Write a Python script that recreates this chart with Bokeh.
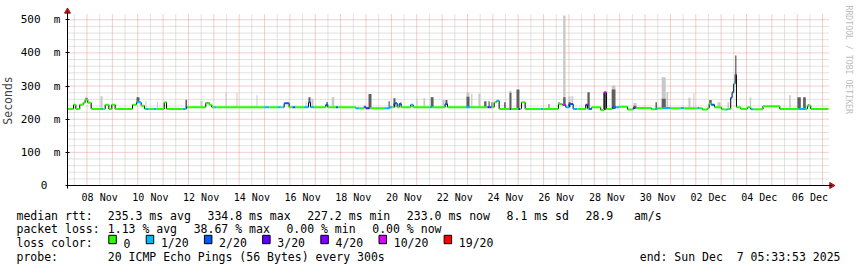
import numpy as np
import pandas as pd
from bokeh.plotting import figure
from bokeh.models import (Range1d, FixedTicker, DatetimeTickFormatter, ColumnDataSource,
                          Label, BoxAnnotation)
from bokeh.embed import file_html
from bokeh.resources import INLINE

# ---------------- data ----------------
START = "2025-11-07 05:33:53"
SPAN_H = 720  # 30 days

loss_labels = ["0", "1/20", "2/20", "3/20", "4/20", "10/20", "19/20"]
loss_colors = ["#26ff00", "#00b8ff", "#0059ff", "#5e00ff", "#7e00ff", "#dd00ff", "#ff0000"]

# median rtt as a step series: start hour (since START), median [ms], loss index
med_h = [0, 5.7, 7.9, 11.6, 14.9, 16.7, 19.2, 22.4, 31.9, 33.8,
         35.7, 39.1, 41.9, 45.1, 61.5, 65.3, 69.7, 72.8, 74.1, 76.9,
         81.4, 84.2, 91.5, 93.7, 108.8, 111.9, 112.6, 113.5, 130.8, 134.1,
         136.5, 138.8, 141.0, 186.1, 190.8, 198.7, 201.8, 203.4, 205.0, 209.7,
         212.9, 215.7, 223.9, 228.0, 229.9, 233.4, 244.4, 246.3, 253.8, 256.1,
         272.7, 276.5, 280.7, 282.2, 286.0, 299.6, 304.9, 307.5, 309.1, 311.9,
         313.8, 315.7, 324.8, 327.0, 342.8, 345.3, 357.3, 359.5, 376.8, 381.5,
         397.3, 399.5, 401.4, 403.7, 406.1, 408.4, 418.4, 420.0, 426.7, 428.3,
         429.5, 433.0, 447.7, 450.0, 464.5, 468.3, 471.4, 474.6, 478.4, 482.5,
         490.3, 491.9, 493.5, 496.0, 504.5, 507.7, 509.9, 515.6, 519.4, 521.9,
         529.8, 535.2, 537.6, 552.5, 556.0, 558.1, 562.9, 570.7, 580.2, 583.4,
         596.0, 598.2, 600.7, 605.4, 607.1, 609.0, 612.1, 618.7, 621.2, 622.5,
         624.4, 627.5, 628.8, 630.3, 631.7, 632.9, 637.0, 643.3, 646.4, 648.7,
         658.0, 673.9, 691.5, 698.5, 700.0, 703.2]
med_ms = [231, 244, 231, 244, 250, 259, 250, 231, 231, 231,
          244, 231, 244, 231, 244, 251, 241, 231, 231, 231,
          231, 231, 251, 231, 231, 231, 236, 236, 248, 244,
          236, 236, 236, 236, 236, 236, 236, 236, 248, 236,
          236, 236, 236, 251, 236, 236, 244, 236, 236, 236,
          233, 233, 238, 233, 233, 233, 236, 236, 248, 236,
          246, 236, 244, 236, 236, 236, 246, 236, 236, 236,
          236, 236, 236, 251, 256, 231, 231, 231, 231, 231,
          251, 231, 231, 231, 246, 243, 236, 246, 231, 231,
          244, 231, 231, 236, 228, 281, 231, 236, 236, 238,
          229, 234, 234, 230, 231, 233, 234, 233, 234, 233,
          234, 233, 229, 233, 247, 244, 236, 230, 229, 229,
          231, 265, 281, 307, 335, 236, 231, 236, 230, 230,
          239, 231, 231, 231, 241, 231]
med_loss = [0, 0, 0, 0, 0, 0, 0, 0, 1, 0,
            0, 0, 0, 0, 0, 1, 0, 0, 1, 0,
            1, 0, 0, 0, 1, 0, 3, 0, 0, 0,
            0, 1, 0, 1, 0, 1, 0, 1, 2, 0,
            2, 0, 1, 2, 1, 0, 2, 0, 2, 0,
            1, 0, 2, 3, 0, 1, 1, 0, 2, 0,
            2, 0, 1, 0, 1, 0, 2, 0, 1, 0,
            3, 2, 0, 0, 1, 0, 3, 0, 3, 0,
            0, 0, 1, 0, 0, 5, 1, 2, 1, 0,
            3, 0, 2, 0, 0, 5, 0, 2, 1, 0,
            0, 3, 0, 0, 1, 0, 1, 0, 1, 0,
            1, 0, 0, 0, 0, 2, 0, 0, 0, 1,
            0, 2, 2, 1, 5, 0, 0, 0, 1, 0,
            0, 0, 1, 0, 0, 0]

# smoke (ping spread) above the median: start/end hour, top of dark and light part [ms] (0 = none)
smoke_h0 = [17.0, 31.2, 65.3, 73.8, 84.7, 111.6, 125.8, 130.8, 149.5, 159.9,
            178.8, 225.2, 228.0, 230.8, 245.0, 250.0, 284.8, 303.7, 308.4, 315.0,
            330.2, 336.8, 343.7, 354.8, 357.6, 377.5, 381.9, 388.8, 394.2, 398.3,
            401.1, 413.1, 418.2, 424.8, 455.1, 464.5, 469.0, 474.0, 476.8, 491.9,
            507.1, 514.9, 535.5, 556.3, 562.2, 566.7, 587.5, 592.2, 607.1, 615.0,
            624.4, 631.7, 645.5, 682.8, 690.6, 696.0, 700.5]
smoke_h1 = [18.9, 33.1, 68.1, 74.7, 85.6, 113.1, 127.7, 134.1, 150.4, 160.8,
            179.7, 226.1, 229.9, 232.7, 246.3, 252.3, 287.6, 304.9, 310.3, 316.0,
            331.1, 338.4, 346.3, 356.9, 359.5, 380.3, 383.1, 390.7, 396.4, 399.5,
            402.1, 414.6, 420.0, 427.6, 456.0, 465.7, 471.2, 475.9, 478.4, 494.1,
            509.9, 518.4, 538.3, 557.7, 566.0, 568.3, 589.4, 593.1, 609.5, 617.8,
            626.0, 632.9, 646.8, 684.3, 693.8, 698.5, 701.9]
smoke_dark = [265, 0, 266, 0, 0, 259, 0, 252, 0, 0,
              0, 0, 266, 0, 252, 0, 276, 254, 263, 251,
              0, 0, 266, 0, 258, 268, 0, 0, 254, 254,
              251, 251, 280, 290, 246, 251, 266, 251, 0, 281,
              281, 290, 241, 251, 262, 0, 0, 0, 258, 0,
              0, 392, 0, 0, 266, 266, 245]
smoke_light = [0, 269, 0, 256, 252, 0, 255, 0, 281, 280,
               272, 254, 0, 262, 0, 266, 0, 0, 0, 0,
               263, 263, 266, 258, 0, 281, 277, 277, 0, 0,
               0, 0, 286, 0, 0, 0, 513, 269, 269, 0,
               0, 302, 249, 0, 327, 281, 265, 278, 0, 251,
               251, 0, 266, 272, 0, 0, 0]

y_ticks = [0, 100, 200, 300, 400, 500]
y_tick_labels = ["0", "100 m", "200 m", "300 m", "400 m", "500 m"]

rtt_stats = [235.3, 334.8, 227.2, 233.0]   # avg, max, min, now [ms]
rtt_sd = 8.1
rtt_ams = 28.9
loss_stats = [1.13, 38.67, 0.00, 0.00]     # avg, max, min, now [%]
probe_text = "20 ICMP Echo Pings (56 Bytes) every 300s"
end_text = "end: Sun Dec  7 05:33:53 2025"
watermark = "RRDTOOL / TOBI OETIKER"

# ---------------- geometry (page px) ----------------
W, H = 857, 267
GL, GR, GT, G0 = 67, 828, 13, 185          # graph left/right/top, zero line
PX_H = (GR - GL) / SPAN_H                  # px per hour
Y_GRID_TOP = 519.0                         # ms at GT
PX_MS = (G0 - GT) / Y_GRID_TOP             # px per ms

start_ts = pd.Timestamp(START)
start_ms = (start_ts - pd.Timestamp("1970-01-01")) / pd.Timedelta("1ms")
HOUR_MS = 3600000.0
end_ms = start_ms + SPAN_H * HOUR_MS
MS_PER_PX = HOUR_MS / PX_H


def to_ms(hours):
    return start_ms + np.asarray(hours, dtype=float) * HOUR_MS


def stamps_ms(idx):
    return np.asarray(((idx - pd.Timestamp("1970-01-01")) / pd.Timedelta("1ms")), dtype=float)


NB = "\u00a0"
MONO = "DejaVu Sans Mono"

# the frame fills the whole canvas; axes sit at fixed data locations
x_lo = start_ms - GL * MS_PER_PX
x_hi = start_ms + (W - GL) * MS_PER_PX
y_lo = -(H - G0) / PX_MS
y_hi = G0 / PX_MS

p = figure(width=W, height=H, x_axis_type="datetime",
           x_range=Range1d(x_lo, x_hi), y_range=Range1d(y_lo, y_hi),
           output_backend="svg", toolbar_location=None,
           min_border=0, min_border_left=0, min_border_right=0,
           min_border_top=0, min_border_bottom=0)
p.background_fill_color = "white"
p.border_fill_color = "white"
p.outline_line_color = None
p.grid.visible = False

label_idx = pd.date_range("2025-11-08 12:00", "2025-12-06 12:00", freq="2D")
midnight_idx = pd.date_range("2025-11-08", "2025-12-07", freq="D")
noon_idx = pd.date_range("2025-11-07 12:00", "2025-12-06 12:00", freq="D")

fmt = "%d %b"
p.xaxis.ticker = FixedTicker(ticks=list(stamps_ms(label_idx)), minor_ticks=[])
p.xaxis.formatter = DatetimeTickFormatter(
    microseconds=fmt, milliseconds=fmt, seconds=fmt, minsec=fmt, minutes=fmt,
    hourmin=fmt, hours=fmt, days=fmt, months=fmt, years=fmt, strip_leading_zeros=False)
p.xaxis.fixed_location = 0
p.xaxis.bounds = (start_ms, end_ms + 3 * MS_PER_PX)
p.xaxis.major_tick_line_color = None
p.xaxis.minor_tick_line_color = None
p.xaxis.major_label_standoff = 0
p.xaxis.major_label_text_font = MONO
p.xaxis.major_label_text_font_size = "10px"
p.xaxis.major_label_text_color = "black"
p.xaxis.axis_line_color = "black"

p.yaxis.ticker = FixedTicker(ticks=y_ticks, minor_ticks=[])
overrides = {}
for t, lab in zip(y_ticks, y_tick_labels):
    if " " in lab:
        num, unit = lab.split(" ")
        overrides[t] = num + NB + NB + unit
    else:
        overrides[t] = lab + NB * 2
p.yaxis.major_label_overrides = overrides
p.yaxis.fixed_location = start_ms
p.yaxis.bounds = (-3 / PX_MS, (G0 - 12) / PX_MS)
p.yaxis.major_tick_in = 2
p.yaxis.major_tick_out = 2
p.yaxis.major_tick_line_color = "black"
p.yaxis.minor_tick_line_color = None
p.yaxis.major_label_standoff = 5
p.yaxis.major_label_text_font = MONO
p.yaxis.major_label_text_font_size = "11px"
p.yaxis.major_label_text_color = "black"
p.yaxis.axis_line_color = "black"
p.yaxis.axis_label = "Seconds"
p.yaxis.axis_label_text_font = MONO
p.yaxis.axis_label_text_font_size = "11.5px"
p.yaxis.axis_label_text_font_style = "normal"
p.yaxis.axis_label_standoff = 3

# grid (dotted), limited to the graph area
major_red = "#e59a9a"
minor_gray = "#c4c4c4"
noon_x = stamps_ms(noon_idx)
mid_x = stamps_ms(midnight_idx)
p.segment(x0=noon_x, y0=0, x1=noon_x, y1=Y_GRID_TOP, line_color=minor_gray, line_dash="1 1", line_width=1)
y_minor = np.array([v for v in range(20, 520, 20) if v % 100 != 0], dtype=float)
p.segment(x0=start_ms, y0=y_minor, x1=end_ms, y1=y_minor, line_color=minor_gray, line_dash="1 1", line_width=1)
p.segment(x0=mid_x, y0=0, x1=mid_x, y1=Y_GRID_TOP, line_color=major_red, line_dash="1 1", line_width=1)
y_major = np.array(y_ticks[1:], dtype=float)
p.segment(x0=start_ms, y0=y_major, x1=end_ms, y1=y_major, line_color=major_red, line_dash="1 1", line_width=1)

# smoke
med_h_arr = np.asarray(med_h, dtype=float)
med_ms_arr = np.asarray(med_ms, dtype=float)
s0 = np.asarray(smoke_h0, dtype=float)
s1 = np.asarray(smoke_h1, dtype=float)
base = med_ms_arr[np.searchsorted(med_h_arr, s0, side="right") - 1]
sd = np.asarray(smoke_dark, dtype=float)
sl = np.asarray(smoke_light, dtype=float)
ml = sl > 0
md = sd > 0
p.quad(left=to_ms(s0[ml]), right=to_ms(s1[ml]), bottom=base[ml], top=sl[ml],
       fill_color="#c8c8c8", line_color=None)
p.quad(left=to_ms(s0[md]), right=to_ms(s1[md]), bottom=base[md], top=sd[md],
       fill_color="#5f5f5f", line_color=None)

# median line: black risers, coloured levels
h_end = med_h[1:] + [SPAN_H]
x0 = to_ms(med_h)
x1 = to_ms(h_end)
risers = ColumnDataSource(dict(x=x1[:-1], y0=med_ms_arr[:-1], y1=med_ms_arr[1:]))
p.segment(x0="x", y0="y0", x1="x", y1="y1", source=risers, line_color="black", line_width=1)
levels = ColumnDataSource(dict(x0=x0, x1=x1, y=med_ms_arr,
                               c=[loss_colors[i] for i in med_loss]))
p.segment(x0="x0", y0="y", x1="x1", y1="y", source=levels, line_color="c",
          line_width=2, line_cap="butt")

# axis arrows
arrow_c = "#a01818"
p.scatter(x=[start_ms], y=[Y_GRID_TOP + 2.1 / PX_MS], marker="triangle", size=6,
          fill_color=arrow_c, line_color=arrow_c)
p.scatter(x=[end_ms + 3.0 * MS_PER_PX], y=[0], marker="triangle", angle=-np.pi / 2, size=6,
          fill_color=arrow_c, line_color=arrow_c)

# ---------------- legend / text block (page px -> screen units of the full frame) ----------------
def sx(X):
    return X


def sy(Y):
    return H - Y


FS = 11.5
PITCH = 0.6021 * FS
GAP = 16.6
X0, X1 = 16.0, 107.3
rows_y = [215.0, 228.9, 242.8, 256.7]


def put(X, Y, s, align="left"):
    p.add_layout(Label(x=sx(X), y=sy(Y), x_units="screen", y_units="screen",
                       text=s.replace("  ", NB + NB), text_align=align,
                       text_baseline="alphabetic", text_font=MONO,
                       text_font_size=f"{FS}px", text_color="black"))


def put_row(Y, head, items):
    put(X0, Y, head)
    cur = X1
    for s in items:
        put(cur, Y, s)
        cur += len(s) * PITCH + GAP


put_row(rows_y[0], "median rtt:",
        [f"{rtt_stats[0]:.1f} ms avg", f"{rtt_stats[1]:.1f} ms max",
         f"{rtt_stats[2]:.1f} ms min", f"{rtt_stats[3]:.1f} ms now",
         f"{rtt_sd:.1f} ms sd", f"{rtt_ams:.1f}" + NB * 3 + "am/s"])
put_row(rows_y[1], "packet loss:",
        [f"{loss_stats[0]:.2f} % avg", f"{loss_stats[1]:.2f} % max",
         f"{loss_stats[2]:.2f} % min", f"{loss_stats[3]:.2f} % now"])

put(X0, rows_y[2], "loss color:")
cur = 108.3
BOX, TXT_OFF, LGAP = 7.5, 14.7, 15.8
for lab, col in zip(loss_labels, loss_colors):
    p.add_layout(BoxAnnotation(left=sx(cur), right=sx(cur + BOX),
                               top=sy(rows_y[2] - 8), bottom=sy(rows_y[2] + 0.4),
                               left_units="screen", right_units="screen",
                               top_units="screen", bottom_units="screen",
                               fill_color=col, fill_alpha=1.0,
                               line_color="black", line_alpha=1.0, line_width=1))
    put(cur + TXT_OFF, rows_y[2], lab)
    cur += TXT_OFF + len(lab) * PITCH + LGAP

put(X0, rows_y[3], "probe:")
put(X1, rows_y[3], probe_text)
put(840.0, rows_y[3], end_text, align="right")

p.add_layout(Label(x=sx(848.5), y=sy(5.0), x_units="screen", y_units="screen",
                   text=watermark, angle=-np.pi / 2, text_align="left",
                   text_baseline="middle", text_font=MONO, text_font_size="8.2px",
                   text_color="#bdbdbd"))

open("out.html", "w").write(file_html(p, INLINE))
